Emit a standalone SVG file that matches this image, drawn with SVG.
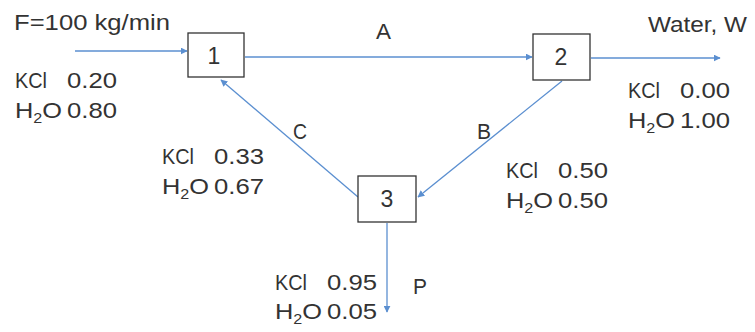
<svg xmlns="http://www.w3.org/2000/svg" width="755" height="332" viewBox="0 0 755 332">
<style>
text{font-family:"Liberation Sans",Arial,sans-serif;font-size:22px;fill:#333}
.box{fill:#fff;stroke:#333;stroke-width:1.3}
.c{stroke:#5b8fd0;stroke-width:1.3;fill:none;marker-end:url(#ah)}
.n{text-anchor:middle;font-size:23px}
.s{font-size:14px}
</style>
<defs>
<marker id="ah" viewBox="0 0 10 10" refX="9" refY="5" markerWidth="7" markerHeight="7" orient="auto" markerUnits="userSpaceOnUse">
<path d="M0,0 L10,5 L0,10 z" fill="#5b8fd0"/>
</marker>
</defs>
<g id="connectors">
<line class="c" x1="75" y1="51" x2="187" y2="51"/>
<line class="c" x1="245" y1="57" x2="532" y2="57"/>
<line class="c" x1="591" y1="58" x2="720" y2="58"/>
<line class="c" x1="562" y1="81" x2="418" y2="197"/>
<line class="c" x1="358" y1="197" x2="221" y2="80"/>
<line class="c" x1="387" y1="223" x2="387" y2="312"/>
</g>
<g id="node1"><rect class="box" x="188" y="33" width="56" height="44"/><text class="n" x="214" y="64">1</text></g>
<g id="node2"><rect class="box" x="533" y="34" width="57" height="46"/><text class="n" x="561" y="65">2</text></g>
<g id="node3"><rect class="box" x="358" y="176" width="58" height="46"/><text class="n" x="387" y="207">3</text></g>
<g id="labels">
<text x="14" y="30" textLength="156" lengthAdjust="spacingAndGlyphs">F=100 kg/min</text>
<text x="15" y="88" textLength="32" lengthAdjust="spacingAndGlyphs">KCl</text>
<text x="67" y="88" textLength="50" lengthAdjust="spacingAndGlyphs">0.20</text>
<text x="15" y="118" textLength="47" lengthAdjust="spacingAndGlyphs">H<tspan class="s" dy="5">2</tspan><tspan dy="-5">O</tspan></text>
<text x="67" y="118" textLength="50" lengthAdjust="spacingAndGlyphs">0.80</text>
<text x="376" y="39" textLength="15" lengthAdjust="spacingAndGlyphs">A</text>
<text x="648" y="32" textLength="99" lengthAdjust="spacingAndGlyphs">Water, W</text>
<text x="628" y="98" textLength="32" lengthAdjust="spacingAndGlyphs">KCl</text>
<text x="680" y="98" textLength="50" lengthAdjust="spacingAndGlyphs">0.00</text>
<text x="628" y="128" textLength="47" lengthAdjust="spacingAndGlyphs">H<tspan class="s" dy="5">2</tspan><tspan dy="-5">O</tspan></text>
<text x="680" y="128" textLength="50" lengthAdjust="spacingAndGlyphs">1.00</text>
<text x="293" y="139" textLength="14" lengthAdjust="spacingAndGlyphs">C</text>
<text x="477" y="139" textLength="14" lengthAdjust="spacingAndGlyphs">B</text>
<text x="162" y="164" textLength="32" lengthAdjust="spacingAndGlyphs">KCl</text>
<text x="214" y="164" textLength="50" lengthAdjust="spacingAndGlyphs">0.33</text>
<text x="162" y="194" textLength="47" lengthAdjust="spacingAndGlyphs">H<tspan class="s" dy="5">2</tspan><tspan dy="-5">O</tspan></text>
<text x="214" y="194" textLength="50" lengthAdjust="spacingAndGlyphs">0.67</text>
<text x="506" y="178" textLength="32" lengthAdjust="spacingAndGlyphs">KCl</text>
<text x="558" y="178" textLength="50" lengthAdjust="spacingAndGlyphs">0.50</text>
<text x="506" y="208" textLength="47" lengthAdjust="spacingAndGlyphs">H<tspan class="s" dy="5">2</tspan><tspan dy="-5">O</tspan></text>
<text x="558" y="208" textLength="50" lengthAdjust="spacingAndGlyphs">0.50</text>
<text x="275" y="290" textLength="32" lengthAdjust="spacingAndGlyphs">KCl</text>
<text x="327" y="290" textLength="50" lengthAdjust="spacingAndGlyphs">0.95</text>
<text x="275" y="319" textLength="47" lengthAdjust="spacingAndGlyphs">H<tspan class="s" dy="5">2</tspan><tspan dy="-5">O</tspan></text>
<text x="327" y="319" textLength="50" lengthAdjust="spacingAndGlyphs">0.05</text>
<text x="413" y="294" textLength="14" lengthAdjust="spacingAndGlyphs">P</text>
</g>
</svg>
